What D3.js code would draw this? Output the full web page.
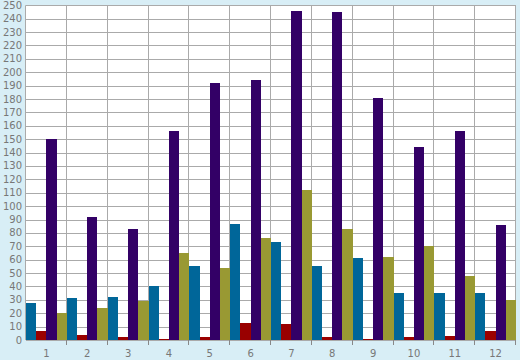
<!DOCTYPE html>
<html>
<head>
<meta charset="utf-8">
<script src="https://cdn.jsdelivr.net/npm/d3@7"></script>
<style>
html,body{margin:0;padding:0;background:#d8eef6;}
svg{display:block;}
</style>
</head>
<body>
<svg id="chart" width="520" height="360"></svg>
<script>
const categories = ["1","2","3","4","5","6","7","8","9","10","11","12"];
const seriesNames = ["blue","red","purple","olive"];
const blueValues   = [28, 31, 32, 40, 55, 87, 73, 55, 61, 35, 35, 35];
const redValues    = [7, 4, 2, 1, 2, 13, 12, 2, 1, 2, 3, 7];
const purpleValues = [150, 92, 83, 156, 192, 194, 246, 245, 181, 144, 156, 86];
const oliveValues  = [20, 24, 29, 65, 54, 76, 112, 83, 62, 70, 48, 30];
const yTicks = d3.range(0, 251, 10);
const colors = ["#006699", "#990000", "#330066", "#999933"];

(function () {
const series = [blueValues, redValues, purpleValues, oliveValues];
const svg = d3.select("#chart");
const pLeft = 26, pRight = 516, pTop = 5.3, pBottom = 340;

const x = d3.scaleBand().domain(categories).range([pLeft, pRight]).paddingInner(0).paddingOuter(0);
const xs = d3.scaleBand().domain(seriesNames).range([0, x.bandwidth()]).padding(0);
const y = d3.scaleLinear().domain([0, 250]).range([pBottom, pTop]);

svg.append("rect").attr("x", pLeft).attr("y", pTop).attr("width", pRight - pLeft).attr("height", pBottom - pTop).attr("fill", "#ffffff");

svg.append("g").selectAll("line").data(yTicks).join("line")
  .attr("x1", pLeft).attr("x2", pRight)
  .attr("y1", d => Math.round(y(d)) + 0.5).attr("y2", d => Math.round(y(d)) + 0.5)
  .attr("stroke", "#aaaaaa").attr("stroke-width", 1);

const bounds = [pLeft].concat(categories.map(c => x(c) + x.bandwidth()));
svg.append("g").selectAll("line").data(bounds).join("line")
  .attr("x1", d => Math.round(d) - 0.5).attr("x2", d => Math.round(d) - 0.5)
  .attr("y1", pTop).attr("y2", pBottom)
  .attr("stroke", "#aaaaaa").attr("stroke-width", 1);

categories.forEach((c, i) => {
  seriesNames.forEach((s, j) => {
    const v = series[j][i];
    svg.append("rect")
      .attr("x", x(c) + xs(s))
      .attr("width", xs.bandwidth())
      .attr("y", y(v))
      .attr("height", pBottom - y(v))
      .attr("fill", colors[j])
      .attr("shape-rendering", "crispEdges");
  });
});

svg.append("g").selectAll("text").data(yTicks).join("text")
  .attr("x", 22).attr("y", d => y(d)).attr("dy", "0.35em")
  .attr("text-anchor", "end")
  .attr("font-family", "DejaVu Sans").attr("font-size", 10).attr("fill", "#777777")
  .text(d => d);

svg.append("g").selectAll("line").data(categories).join("line")
  .attr("x1", d => Math.round(x(d) + x.bandwidth()) - 0.5)
  .attr("x2", d => Math.round(x(d) + x.bandwidth()) - 0.5)
  .attr("y1", pBottom).attr("y2", pBottom + 5)
  .attr("stroke", "#888888");

svg.append("g").selectAll("text").data(categories).join("text")
  .attr("x", d => x(d) + x.bandwidth() / 2).attr("y", 357)
  .attr("text-anchor", "middle")
  .attr("font-family", "DejaVu Sans").attr("font-size", 10).attr("fill", "#777777")
  .text(d => d);
})();
</script>
</body>
</html>
